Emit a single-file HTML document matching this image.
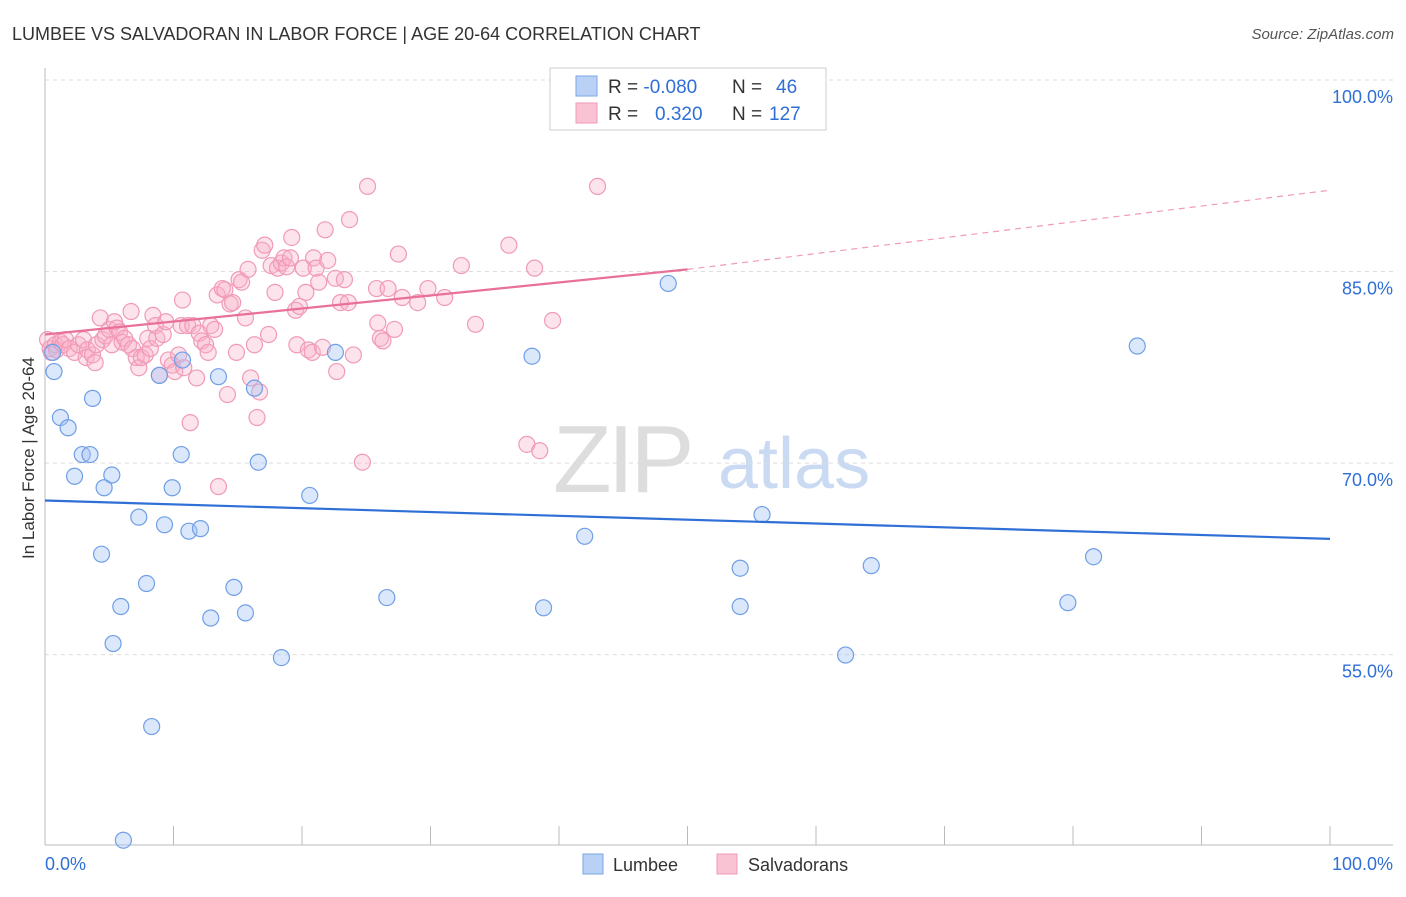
<!DOCTYPE html>
<html><head><meta charset="utf-8"><style>
body{margin:0;background:#fff;font-family:"Liberation Sans",sans-serif;}
svg text{font-family:"Liberation Sans",sans-serif;}
</style></head><body>
<svg id="chart" width="1406" height="892" xmlns="http://www.w3.org/2000/svg">
<text x="12" y="40" font-size="18" fill="#333">LUMBEE VS SALVADORAN IN LABOR FORCE | AGE 20-64 CORRELATION CHART</text>
<text x="1394" y="39" font-size="15" fill="#555" font-style="italic" text-anchor="end">Source: ZipAtlas.com</text>
<g>
<text x="553" y="492" font-size="96" font-family="Liberation Serif, serif" fill="#ddd" letter-spacing="-4">ZIP</text>
<text x="718" y="488" font-size="72" fill="#c9daf2">atlas</text>
</g>
<g id="grid"></g>
<g id="axes"></g>
<g id="marks"></g>
<text transform="translate(34,458) rotate(-90)" font-size="17" fill="#333" text-anchor="middle">In Labor Force | Age 20-64</text>
<g>
<rect x="550" y="68" width="276" height="62" fill="#fff" stroke="#ccc"/>
<rect x="576" y="76" width="21" height="20" fill="#b9d1f5" stroke="#7aa6e6"/>
<rect x="576" y="103" width="21" height="20" fill="#f9c3d3" stroke="#f09ab8"/>
<text x="608" y="93" font-size="19" fill="#333">R = <tspan fill="#2f6fd6">-0.080</tspan><tspan x="732">N = </tspan><tspan x="776" fill="#2f6fd6">46</tspan></text>
<text x="608" y="120" font-size="19" fill="#333">R = <tspan x="655" fill="#2f6fd6">0.320</tspan><tspan x="732">N = </tspan><tspan x="769" fill="#2f6fd6">127</tspan></text>
</g>
<g>
<rect x="583" y="854" width="20" height="20" fill="#b9d1f5" stroke="#7aa6e6"/>
<text x="613" y="871" font-size="18" fill="#333">Lumbee</text>
<rect x="717" y="854" width="20" height="20" fill="#f9c3d3" stroke="#f09ab8"/>
<text x="748" y="871" font-size="18" fill="#333">Salvadorans</text>
</g>
</svg>
<script>
const yTicks=[100,85,70,55];
const yTickLabels=["100.0%","85.0%","70.0%","55.0%"];
const xTickLabels=["0.0%","100.0%"];
const blueX=[0.6,0.7,1.2,1.8,2.3,2.9,3.5,3.7,4.6,4.4,5.2,5.9,5.3,7.3,7.9,8.3,8.9,9.3,9.9,10.6,10.7,11.2,12.1,12.9,13.5,14.7,15.6,16.3,16.6,18.4,20.6,22.6,26.6,37.9,38.8,42.0,48.5,54.1,54.1,55.8,62.3,64.3,79.6,81.6,85.0,6.1];
const blueY=[80.0,78.5,74.9,74.1,70.3,72.0,72.0,76.4,69.4,64.2,70.4,60.1,57.2,67.1,61.9,50.7,78.2,66.5,69.4,72.0,79.4,66.0,66.2,59.2,78.1,61.6,59.6,77.2,71.4,56.1,68.8,80.0,60.8,79.7,60.0,65.6,85.4,63.1,60.1,67.3,56.3,63.3,60.4,64.0,80.5,41.8];
const pinkX=[0.2,0.4,0.5,0.8,0.9,1.2,1.4,1.6,1.9,2.3,2.6,3.0,3.2,3.3,3.7,3.9,4.0,4.3,4.5,4.7,5.0,5.2,5.4,5.6,5.8,6.0,6.2,6.5,6.7,6.8,7.1,7.3,7.5,7.8,8.0,8.2,8.4,8.6,8.7,8.9,9.2,9.4,9.6,9.9,10.1,10.4,10.6,10.7,10.8,11.1,11.3,11.5,11.8,12.0,12.2,12.5,12.7,12.9,13.2,13.4,13.5,13.8,14.0,14.2,14.4,14.6,14.9,15.1,15.3,15.6,15.8,16.0,16.3,16.5,16.7,16.9,17.1,17.4,17.6,17.9,18.1,18.4,18.6,18.8,19.1,19.2,19.5,19.6,19.8,20.1,20.3,20.5,20.8,20.9,21.1,21.3,21.6,21.8,22.0,22.6,22.7,23.0,23.3,23.6,23.7,24.0,24.7,25.1,25.8,25.9,26.1,26.3,26.7,27.2,27.5,27.8,29.0,29.8,31.1,32.4,33.5,36.1,37.5,38.1,38.5,39.5,43.0];
const pinkY=[81.0,80.3,80.0,80.6,80.2,80.8,80.6,81.0,80.3,80.0,80.6,81.0,79.6,80.2,79.8,79.2,80.6,82.7,81.0,81.3,81.8,80.6,82.4,81.9,81.6,80.8,81.1,80.6,83.2,80.3,79.6,78.8,79.6,79.8,81.1,80.3,82.9,82.1,81.1,78.2,81.4,82.4,79.4,79.0,78.5,79.8,82.1,84.1,78.8,82.1,74.5,82.1,78.0,81.5,80.9,80.6,80.0,82.1,81.8,84.5,69.5,85.0,84.9,76.7,83.8,83.9,80.0,85.7,85.5,82.7,86.5,78.0,80.6,74.9,76.9,88.0,88.4,81.4,86.8,84.7,86.6,87.0,87.4,86.7,87.4,89.0,83.3,80.6,83.6,86.6,84.7,80.2,80.0,87.4,86.6,85.5,80.4,89.6,87.2,85.8,78.5,83.9,85.7,83.9,90.4,79.8,71.4,93.0,85.0,82.3,81.1,80.9,85.0,81.8,87.7,84.3,83.9,85.0,84.3,86.8,82.2,88.4,72.8,86.6,72.3,82.5,93.0];
const blueTrendX=[0,100];
const blueTrendY=[68.4,65.4];
const pinkTrendX=[0,50,100];
const pinkTrendY=[81.4,86.5,92.7];

const NS="http://www.w3.org/2000/svg";
function xScale(v){return 45+v*12.85;}
function yScale(v){return 97+(100-v)*12.77;}
function mk(tag,attrs,parent){const e=document.createElementNS(NS,tag);for(const k in attrs)e.setAttribute(k,attrs[k]);parent.appendChild(e);return e;}
const grid=document.getElementById('grid'),axes=document.getElementById('axes'),marks=document.getElementById('marks');
yTicks.forEach((t,i)=>{
  const gy=yScale(t)-17;
  const l=mk('line',{x1:45,x2:1393,y1:gy,y2:gy,stroke:'#ddd','stroke-dasharray':'4,4'},grid);
  
  
  const tx=mk('text',{x:1393,y:yScale(t)+6,'font-size':18,fill:'#2f6fd6','text-anchor':'end'},axes);
  tx.textContent=yTickLabels[i];
  
  
});
let a=mk('line',{x1:45,x2:45,y1:68,y2:845,stroke:'#bbb'},axes);


a=mk('line',{x1:45,x2:1393,y1:845,y2:845,stroke:'#bbb'},axes);


for(let i=0;i<=10;i++){
  const x=xScale(i*10);
  const t=mk('line',{x1:x,x2:x,y1:826,y2:845,stroke:'#bbb'},axes);
  
  
}
[[0,'start',45],[100,'end',1393]].forEach((d,i)=>{
  const t=mk('text',{x:d[2],y:870,'font-size':18,fill:'#2f6fd6','text-anchor':d[1]},axes);
  t.textContent=xTickLabels[i];
  
  
});
pinkX.forEach((x,i)=>{
  const c=mk('circle',{cx:xScale(x),cy:yScale(pinkY[i]),r:8,fill:'rgba(248,175,198,0.35)',stroke:'#f09ab8','stroke-width':1.2},marks);
  
  
});
blueX.forEach((x,i)=>{
  const c=mk('circle',{cx:xScale(x),cy:yScale(blueY[i]),r:8,fill:'rgba(165,196,244,0.4)',stroke:'#6f9fe6','stroke-width':1.2},marks);
  
  
});
let ln=mk('line',{x1:xScale(blueTrendX[0]),y1:yScale(blueTrendY[0]),x2:xScale(blueTrendX[1]),y2:yScale(blueTrendY[1]),stroke:'#2f6fd6','stroke-width':2.2},marks);


ln=mk('line',{x1:xScale(pinkTrendX[0]),y1:yScale(pinkTrendY[0]),x2:xScale(pinkTrendX[1]),y2:yScale(pinkTrendY[1]),stroke:'#e8709a','stroke-width':2.2},marks);


ln=mk('line',{x1:xScale(pinkTrendX[1]),y1:yScale(pinkTrendY[1]),x2:xScale(pinkTrendX[2]),y2:yScale(pinkTrendY[2]),stroke:'#f09ab8','stroke-width':1.2,'stroke-dasharray':'6,5'},marks);


</script>
</body></html>
